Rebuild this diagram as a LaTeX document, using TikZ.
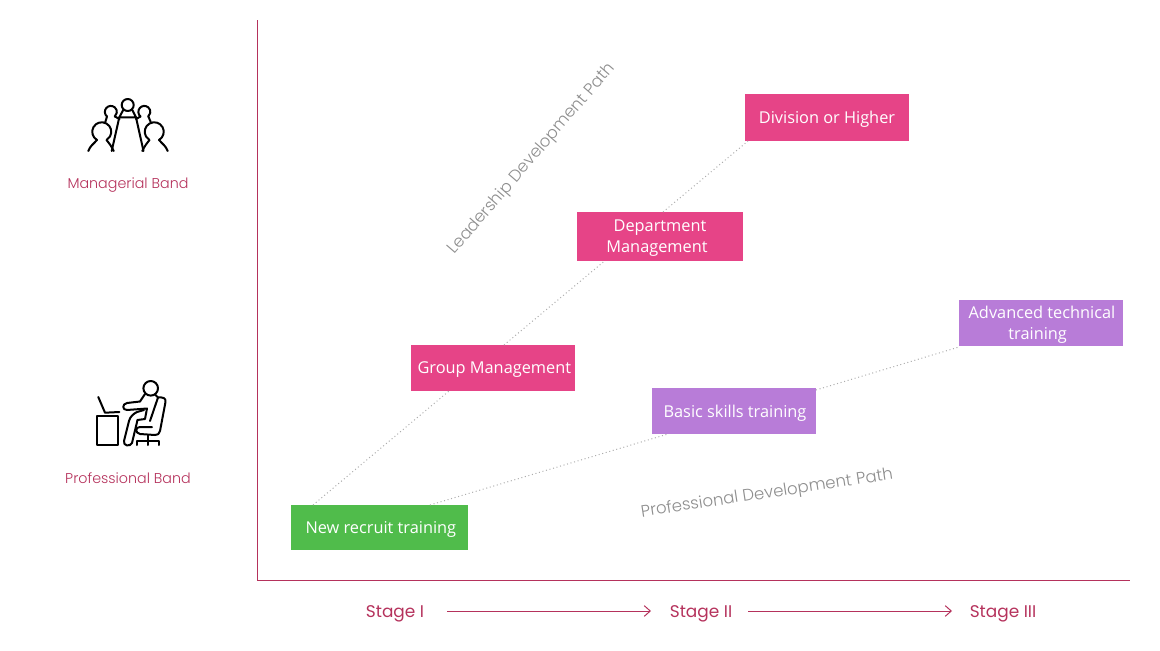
\documentclass[tikz,border=0pt]{standalone}
\usepackage{fontspec}
\setmainfont{Open Sans}
\newfontfamily\wide{Poppins}
\newfontfamily\lightf{Poppins}[UprightFont=* Light]
\usetikzlibrary{arrows.meta}
\definecolor{crim}{HTML}{B5325C}
\definecolor{pinkbox}{HTML}{E64487}
\definecolor{greenbox}{HTML}{50BC4B}
\definecolor{purpbox}{HTML}{B87CD8}
\definecolor{graytxt}{HTML}{8E8E8E}
\tikzset{
 x=0.75pt,y=-0.75pt,
 box/.style={draw=none,fill=#1,inner sep=0pt},
 boxtext/.style={text=white,inner sep=0pt,align=center,yshift=-1.4pt,font=\fontsize{12.25}{15.6}\selectfont},
 conn/.style={draw=black!32,line width=0.75pt,dotted},
 axisline/.style={draw=crim,line width=0.75pt},
 stagelab/.style={text=crim,font=\wide\fontsize{12.7}{15}\selectfont,inner sep=0pt},
 bandlab/.style={text=crim,font=\lightf\fontsize{10.7}{13}\selectfont,inner sep=0pt},
 pathlab/.style={text=graytxt,font=\lightf\fontsize{12.4}{15}\selectfont,inner sep=0pt},
 icon/.style={draw=black,line width=1.5pt,line join=round,line cap=round},
}
\newcommand{\boxnode}[7]{\node[box=#6,minimum width=#3*0.75pt,minimum height=#4*0.75pt,label={[boxtext]center:{#7}}] (#5) at (#1,#2) {};}
\begin{document}
\begin{tikzpicture}
\useasboundingbox (0,0) rectangle (1160,650);
% axes
\coordinate (axtop) at (257,20);
\coordinate (axorg) at (257,580);
\coordinate (axend) at (1130,580);
\draw[axisline] (axtop) -- (axorg) -- (axend);
% boxes
\boxnode{827}{117.5}{164}{47}{div}{pinkbox}{Division or Higher}
\boxnode{660}{236.5}{166}{49}{dept}{pinkbox}{Department\\Management\hspace*{4.5pt}}
\boxnode{493}{368}{164}{46}{grp}{pinkbox}{\hspace*{2pt}Group Management}
\boxnode{379.5}{527.5}{177}{45}{rec}{greenbox}{\hspace*{2pt}New recruit training}
\boxnode{734}{411}{164}{46}{bas}{purpbox}{\hspace*{1.5pt}Basic skills training}
\boxnode{1041}{323}{164}{46}{adv}{purpbox}{\hspace*{1.5pt}Advanced technical\\training\hspace*{5pt}}
% connector ends
\coordinate (a0) at (313,505);
\coordinate (a1) at (449,391);
\coordinate (a2) at (504,345);
\coordinate (a3) at (604.5,261);
\coordinate (a4) at (663,212);
\coordinate (a5) at (748,141);
\coordinate (b0) at (430,505);
\coordinate (b1) at (668,434);
\coordinate (b2) at (816,390);
\coordinate (b3) at (959,347);
\draw[conn] (a0) -- (a1);
\draw[conn] (a2) -- (a3);
\draw[conn] (a4) -- (a5);
\draw[conn] (b0) -- (b1);
\draw[conn] (b2) -- (b3);
% path labels
\node[pathlab,rotate=49.3] (lp) at (532,159) {Leadership Development Path};
\node[pathlab,rotate=8.6] (pp) at (767,494) {Professional Development Path};
% stages
\node[stagelab] (s1) at (395,613.5) {Stage I};
\node[stagelab] (s2) at (701,613.5) {Stage II};
\node[stagelab] (s3) at (1003,613.5) {Stage III};
\coordinate (s1e) at (447,611); \coordinate (s2w) at (651,611);
\coordinate (s2e) at (748,611); \coordinate (s3w) at (952,611);
\draw[axisline,-{Straight Barb[length=4.5pt,width=8pt,line width=0.75pt]}] (s1e) -- (s2w);
\draw[axisline,-{Straight Barb[length=4.5pt,width=8pt,line width=0.75pt]}] (s2e) -- (s3w);
% bands
\node[bandlab] (mb) at (128,185.5) {Managerial Band};
\node[bandlab] (pb) at (128,478.5) {Professional Band};
% managerial icon
\draw[icon] (127.7,105) circle (6);
\draw[icon] (123.5,109.5) -- (119.3,117.3) -- (136,117.3) -- (132,109.5);
\draw[icon] (119.3,117.3) -- (111.7,151) (136,117.3) -- (143.5,151);
% back persons
\draw[icon] (107,116.5) arc[start angle=130,end angle=410,radius=6];
\draw[icon] (114.9,116.5) -- (119.5,119);
\draw[icon] (107,116.5) -- (105.3,122);
\draw[icon] (140.5,116.5) arc[start angle=130,end angle=410,radius=6];
\draw[icon] (140.5,116.5) -- (136,119);
\draw[icon] (148.4,116.5) -- (150.7,122);
% front persons
\draw[icon] (88.3,151) .. controls (90,146) and (94,143.5) .. (97,140) arc[start angle=120,end angle=420,radius=9.5] .. controls (109,143) and (112,147) .. (113.7,151);
\draw[icon] (167.7,151) .. controls (166,146) and (162,143.5) .. (159,140) arc[start angle=60,end angle=-240,radius=9.5] .. controls (147,143) and (144,147) .. (142.3,151);
% professional icon
\draw[icon] (98.3,397) -- (105,412.7) -- (119.3,412);
\draw[icon] (97.3,416) rectangle (117.5,445);
\draw[icon] (150.7,388.3) circle (7.3);
\draw[icon] (145,394) -- (140,401.5) -- (127,403) .. controls (122,404) and (122,410) .. (127,410) -- (147,408.5) -- (145,419) -- (137.5,420);
\draw[icon] (137.5,420) -- (132,443) .. controls (130,447) and (123,446) .. (124,441) -- (129,421) .. controls (130,417) and (133,414) .. (137,412) -- (144,410);
\draw[icon] (155,394.5) -- (158,397.5) -- (150,421);
\draw[icon] (158,397.5) .. controls (163,397) and (166,398) .. (165.5,402) -- (160,431) .. controls (159,434) and (158,435) .. (155,435) -- (140,434) .. controls (135,433) and (135,427) .. (140,427) -- (152,427);
\draw[icon] (147.7,435) -- (147.7,445) (136.5,445) -- (136.5,441) -- (158.5,441) -- (158.5,445);
\end{tikzpicture}
\end{document}
